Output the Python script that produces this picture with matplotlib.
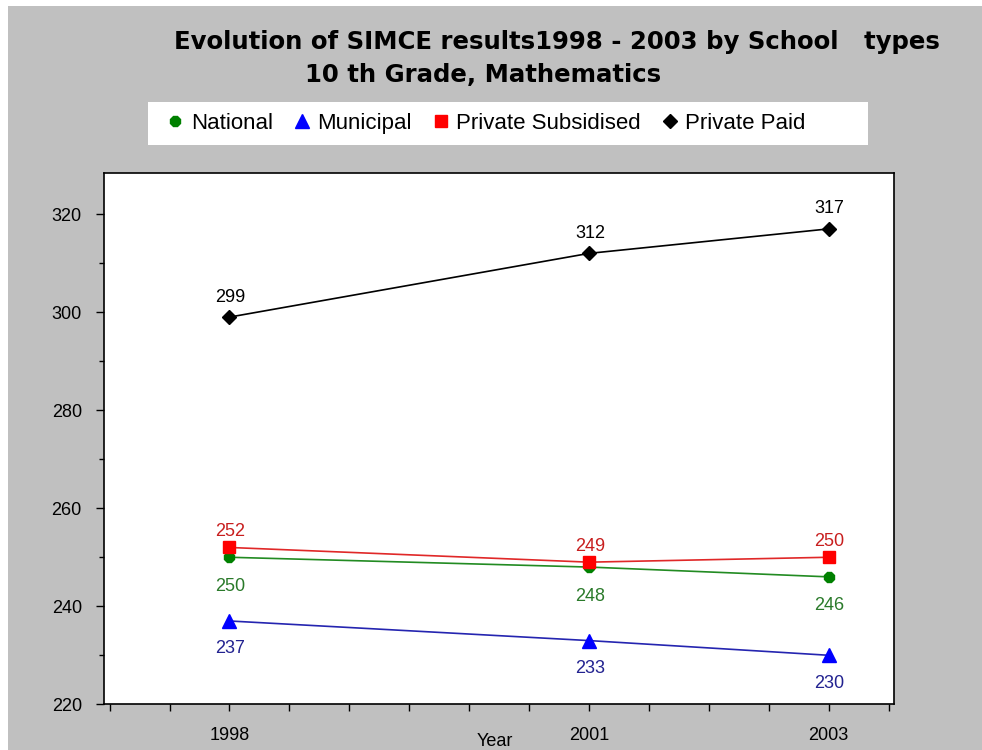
import matplotlib
matplotlib.use("Agg")
import matplotlib.pyplot as plt
from matplotlib.lines import Line2D
from matplotlib.patches import Rectangle
import numpy as np

years = [1998, 2001, 2003]
national = [250, 248, 246]
municipal = [237, 233, 230]
private_subsidised = [252, 249, 250]
private_paid = [299, 312, 317]

names = ["National", "Municipal", "Private Subsidised", "Private Paid"]
title_1 = "Evolution of SIMCE results1998 - 2003 by School   types"
title_2 = "10 th Grade, Mathematics"

plt.rcParams['font.family'] = ['Liberation Sans', 'DejaVu Sans']

W, H = 982, 750
fig = plt.figure(figsize=(W / 100, H / 100), dpi=100)
fig.patch.set_facecolor("white")
# gray background, thin white strip on left and top
fig.add_artist(Rectangle((8 / W, 0), 1 - 8 / W, 1 - 6 / H, transform=fig.transFigure,
                         facecolor="#c0c0c0", edgecolor="none", zorder=-10))

ax = fig.add_axes([104 / W, (H - 704.3) / H, 790 / W, (704.3 - 173) / H])
ax.set_facecolor("white")

# (values, marker, marker colour, line colour, text colour, label offset px, marker size)
styles = [
    (national, "8", "#008000", "#228b22", "#2a7a2a", 29, 8.5),
    (municipal, "^", "#0000ff", "#2525b0", "#222290", 28, 10),
    (private_subsidised, "s", "#ff0000", "#e02828", "#c81e1e", -16, 8.5),
    (private_paid, "D", "#000000", "#000000", "#000000", -20, 7),
]

handles = []
for (vals, mk, mc, lc, tc, off, ms), name in zip(styles, names):
    ax.plot(years, vals, color=lc, linewidth=1.2, zorder=2)
    ax.plot(years, vals, linestyle="none", marker=mk, markersize=ms,
            markerfacecolor=mc, markeredgecolor=mc, zorder=3)
    for x, v in zip(years, vals):
        ax.annotate(str(v), (x, v), xytext=(1, -off), textcoords="offset pixels",
                    ha="center", va="center", fontsize=13, color=tc, zorder=4)
    handles.append(Line2D([], [], linestyle="none", marker=mk, markersize=ms,
                          markerfacecolor=mc, markeredgecolor=mc, label=name))

ax.set_xlim(1996.953, 2003.545)
ax.set_ylim(220, 328.4)

ax.set_xticks(np.arange(1997, 2003.51, 0.5))
ax.set_xticklabels([str(int(t)) if t in years else "" for t in np.arange(1997, 2003.51, 0.5)])
ax.set_yticks(np.arange(220, 321, 20))
ax.set_yticks(np.arange(230, 320, 20), minor=True)
ax.tick_params(axis="x", which="major", direction="out", length=5, width=1, pad=11, labelsize=13)
ax.tick_params(axis="y", which="major", direction="out", length=6, width=1, pad=10, labelsize=13)
ax.tick_params(axis="y", which="minor", direction="out", length=3.5, width=1)

for s in ax.spines.values():
    s.set_linewidth(1.2)
    s.set_color("black")

ax.set_xlabel("Year", fontsize=13, va="center")
ax.xaxis.set_label_coords((495 - 104) / 790, -(741 - 704.3) / 531.3)

# titles
fig.text(174 / W, 1 - 48.5 / H, title_1, ha="left", va="baseline", fontsize=17.6,
         fontweight="bold", family="DejaVu Sans")
fig.text(305 / W, 1 - 82.5 / H, title_2, ha="left", va="baseline", fontsize=17.6,
         fontweight="bold", family="DejaVu Sans")

# legend with white box
fig.add_artist(Rectangle((148 / W, 1 - 145 / H), 720 / W, 43 / H, transform=fig.transFigure,
                         facecolor="white", edgecolor="none", zorder=-5))
fig.legend(handles=handles, loc="center", bbox_to_anchor=(486 / W, 1 - 123.5 / H),
           ncol=4, frameon=False, fontsize=16, handlelength=0.8, handletextpad=0.3,
           columnspacing=0.9, borderpad=0, borderaxespad=0)

fig.savefig("out.png", dpi=100, facecolor=fig.get_facecolor())
